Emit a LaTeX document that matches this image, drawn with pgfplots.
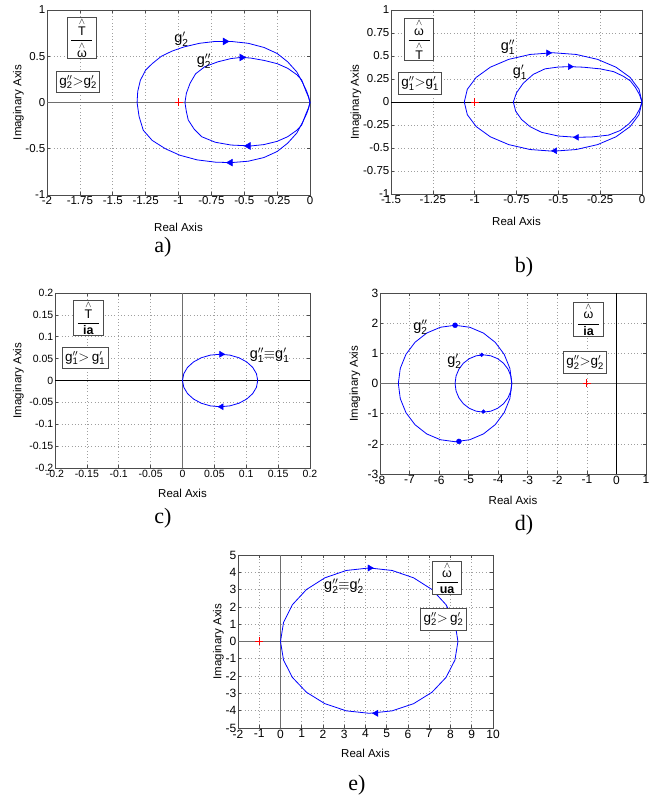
\documentclass[border=0pt]{standalone}
\usepackage{amsmath}
\usepackage{pgfplots}
\pgfplotsset{compat=1.18}
\usepackage{fontspec}
\setmainfont{Liberation Sans}
\newfontfamily\capfont{Liberation Serif}
\definecolor{zgray}{RGB}{110,110,110}
\pgfplotsset{
 mat/.style={scale only axis, anchor=south west,
  tick align=inside, major tick length=3pt,
  grid=major, major grid style={draw=gray!75, dash pattern=on 0.7pt off 2.6pt, line width=0.6pt},
  axis line style={draw=gray!60!black, line width=0.9pt},
  tick style={draw=gray!60!black, line width=0.6pt},
  ticklabel style={font=\fontsize{11.5}{13}\selectfont, inner sep=1.5pt},
  xlabel={Real Axis}, ylabel={Imaginary Axis},
  label style={font=\fontsize{11.5}{13}\selectfont},
  xlabel style={at={(axis description cs:0.5,0)}, anchor=center},
  ylabel style={at={(axis description cs:0,0.5)}, anchor=center},
  clip=false},
 curve/.style={blue, line width=0.8pt, line join=round},
 zl/.style={zgray, line width=1.6pt},
 zb/.style={black, line width=0.7pt},
 rp/.style={only marks, blue, mark=triangle*, mark size=4pt, mark options={rotate=-90}},
 lp/.style={only marks, blue, mark=triangle*, mark size=4pt, mark options={rotate=90}},
 crit/.style={only marks, red, mark=+, mark size=4pt, mark options={line width=0.9pt}}
}
\tikzset{
 bx/.style={draw=gray!60!black, line width=0.9pt, fill=white, inner xsep=3pt, inner ysep=4pt, font=\fontsize{13.5}{15}\selectfont},
 fb/.style={bx, inner ysep=1pt, font=\fontsize{12.5}{14}\selectfont},
 lab/.style={font=\fontsize{14.5}{16}\selectfont}
}
\newcommand{\gs}[2]{\text{g}#2_{\text{#1}}}
\newcommand{\fr}[2]{\dfrac{\makebox[21pt]{$#1$}}{\makebox[21pt]{$#2$}}}
\newcommand{\hT}{\overset{\wedge}{\text{T}}}
\newcommand{\hw}{\overset{\wedge}{\text{ω}}}
\begin{document}
\begin{tikzpicture}
\path[use as bounding box] (0pt,0pt) rectangle (659pt,799pt);
% ---------------- a)
\begin{axis}[mat, at={(47pt,604pt)}, width=263pt, height=185pt,
 xmin=-2, xmax=0, ymin=-1, ymax=1,
 xtick={-2,-1.75,-1.5,-1.25,-1,-0.75,-0.5,-0.25,0},
 xticklabels={-2,-1.75,-1.5,-1.25,-1,-0.75,-0.5,-0.25,0},
 ytick={-1,-0.5,0,0.5,1}, yticklabels={-1,-0.5,0,0.5,1},
 xlabel style={yshift=-32pt}, ylabel style={yshift=28.5pt}]
\addplot[zl] coordinates {(-2,0) (0,0)};
\addplot[curve] coordinates {(0,0) (-0.01,0.06) (-0.025,0.12) (-0.055,0.21) (-0.1,0.33) (-0.17,0.44) (-0.25,0.53) (-0.35,0.595) (-0.47,0.64) (-0.6,0.66) (-0.72,0.66) (-0.84,0.64) (-0.96,0.6) (-1.05,0.555) (-1.13,0.5) (-1.2,0.42) (-1.25,0.35) (-1.29,0.24) (-1.31,0.12) (-1.315,0)
 (-1.3,-0.15) (-1.268,-0.3) (-1.2,-0.41) (-1.1,-0.5) (-0.99,-0.57) (-0.86,-0.62) (-0.72,-0.645) (-0.6,-0.65) (-0.47,-0.635) (-0.35,-0.595) (-0.25,-0.53) (-0.17,-0.44) (-0.1,-0.33) (-0.055,-0.21) (-0.025,-0.12) (-0.01,-0.06) (0,0)};
\addplot[curve] coordinates {(0,0) (-0.012,0.06) (-0.03,0.12) (-0.063,0.243) (-0.1,0.3) (-0.17,0.37) (-0.25,0.42) (-0.35,0.455) (-0.45,0.48) (-0.52,0.488) (-0.6,0.475) (-0.7,0.44) (-0.8,0.387) (-0.87,0.31) (-0.912,0.208) (-0.94,0.1) (-0.951,0)
 (-0.94,-0.1) (-0.926,-0.189) (-0.88,-0.29) (-0.824,-0.37) (-0.72,-0.43) (-0.6,-0.46) (-0.45,-0.47) (-0.35,-0.455) (-0.25,-0.42) (-0.17,-0.37) (-0.1,-0.3) (-0.063,-0.243) (-0.03,-0.12) (-0.012,-0.06) (0,0)};
\addplot[rp] coordinates {(-0.646,0.66) (-0.519,0.487)};
\addplot[lp] coordinates {(-0.605,-0.65) (-0.469,-0.47)};
\addplot[crit] coordinates {(-1,0)};
\node[fb] at (rel axis cs:0.133,0.849) {$\fr{\hT}{\hw}$};
\node[bx] at (rel axis cs:0.118,0.611) {$\gs{2}{''}{>}\gs{2}{'}$};
\node[lab] at (axis cs:-0.977,0.686) {$\gs{2}{'}$};
\node[lab] at (axis cs:-0.806,0.449) {$\gs{2}{''}$};
\end{axis}
% ---------------- b)
\begin{axis}[mat, at={(391pt,605pt)}, width=251pt, height=184pt,
 xmin=-1.5, xmax=0, ymin=-1, ymax=1,
 xtick={-1.5,-1.25,-1,-0.75,-0.5,-0.25,0},
 xticklabels={-1.5,-1.25,-1,-0.75,-0.5,-0.25,0},
 ytick={-1,-0.75,-0.5,-0.25,0,0.25,0.5,0.75,1},
 yticklabels={-1,-0.75,-0.5,-0.25,0,0.25,0.5,0.75,1},
 xlabel style={yshift=-27pt}, ylabel style={yshift=35pt}]
\addplot[zb] coordinates {(-1.5,0) (0,0)};
\addplot[curve] coordinates {(0,0) (-0.0181,0.1385) (-0.0712,0.2675) (-0.1555,0.3783) (-0.2655,0.4633) (-0.3936,0.5168) (-0.531,0.535) (-0.6684,0.5168) (-0.7965,0.4633) (-0.9065,0.3783) (-0.9908,0.2675) (-1.0439,0.1385) (-1.062,0)
 (-1.0439,-0.1385) (-0.9908,-0.2675) (-0.9065,-0.3783) (-0.7965,-0.4633) (-0.6684,-0.5168) (-0.531,-0.535) (-0.3936,-0.5168) (-0.2655,-0.4633) (-0.1555,-0.3783) (-0.0712,-0.2675) (-0.0181,-0.1385) (0,0)};
\addplot[curve] coordinates {(0,0) (-0.015,0.08) (-0.04,0.16) (-0.07,0.23) (-0.112,0.28) (-0.17,0.33) (-0.25,0.36) (-0.35,0.378) (-0.43,0.384) (-0.5,0.38) (-0.58,0.36) (-0.65,0.3) (-0.71,0.203) (-0.75,0.1) (-0.769,0)
 (-0.755,-0.1) (-0.72,-0.19) (-0.669,-0.268) (-0.6,-0.33) (-0.5,-0.37) (-0.39,-0.384) (-0.3,-0.38) (-0.2,-0.36) (-0.13,-0.31) (-0.08,-0.24) (-0.04,-0.16) (-0.015,-0.08) (0,0)};
\addplot[rp, mark size=3.4pt] coordinates {(-0.56,0.534) (-0.43,0.384)};
\addplot[lp, mark size=3.4pt] coordinates {(-0.52,-0.53) (-0.39,-0.384)};
\addplot[crit] coordinates {(-1,0)};
\node[fb] at (rel axis cs:0.112,0.840) {$\fr{\hw}{\hT}$};
\node[bx] at (rel axis cs:0.116,0.601) {$\gs{1}{''}{>}\gs{1}{'}$};
\node[lab] at (axis cs:-0.801,0.598) {$\gs{1}{''}$};
\node[lab] at (axis cs:-0.729,0.326) {$\gs{1}{'}$};
\end{axis}
% ---------------- c)
\begin{axis}[mat, at={(55pt,331pt)}, width=255pt, height=175pt,
 xmin=-0.2, xmax=0.2, ymin=-0.2, ymax=0.2,
 ticklabel style={font=\fontsize{10.5}{12}\selectfont},
 xtick={-0.2,-0.15,-0.1,-0.05,0,0.05,0.1,0.15,0.2},
 xticklabels={-0.2,-0.15,-0.1,-0.05,0,0.05,0.1,0.15,0.2},
 ytick={-0.2,-0.15,-0.1,-0.05,0,0.05,0.1,0.15,0.2},
 yticklabels={-0.2,-0.15,-0.1,-0.05,0,0.05,0.1,0.15,0.2},
 xlabel style={yshift=-25pt}, ylabel style={yshift=36.5pt}]
\addplot[zl] coordinates {(0,-0.2) (0,0.2)};
\addplot[zb] coordinates {(-0.2,0) (0.2,0)};
\addplot[curve] coordinates {(0,0) (0.002,0.0155) (0.0079,0.03) (0.0173,0.0424) (0.0295,0.052) (0.0437,0.058) (0.059,0.06) (0.0743,0.058) (0.0885,0.052) (0.1007,0.0424) (0.1101,0.03) (0.116,0.0155) (0.118,0)
 (0.116,-0.0155) (0.1101,-0.03) (0.1007,-0.0424) (0.0885,-0.052) (0.0743,-0.058) (0.059,-0.06) (0.0437,-0.058) (0.0295,-0.052) (0.0173,-0.0424) (0.0079,-0.03) (0.002,-0.0155) (0,0)};
\addplot[rp, mark size=3.4pt] coordinates {(0.061,0.06)};
\addplot[lp, mark size=3.4pt] coordinates {(0.061,-0.06)};
\node[fb] at (rel axis cs:0.131,0.857) {$\fr{\hT}{\textbf{ia}}$};
\node[bx] at (rel axis cs:0.118,0.629) {$\gs{1}{''}{>}\,\gs{1}{'}$};
\node[lab, anchor=west] at (axis cs:0.1,0.057) {$\gs{1}{''}{\equiv}\gs{1}{'}$};
\end{axis}
% ---------------- d)
\begin{axis}[mat, at={(380pt,325pt)}, width=266pt, height=181pt,
 xmin=-8, xmax=1, ymin=-3, ymax=3,
 ticklabel style={font=\fontsize{12}{14}\selectfont},
 xtick={-8,-7,-6,-5,-4,-3,-2,-1,0,1}, xticklabels={-8,-7,-6,-5,-4,-3,-2,-1,0,1},
 ytick={-3,-2,-1,0,1,2,3}, yticklabels={-3,-2,-1,0,1,2,3},
 xlabel style={yshift=-26pt}, ylabel style={yshift=25pt}]
\addplot[zl] coordinates {(-8,0) (1,0)};
\addplot[zb, line width=0.9pt] coordinates {(0,-3) (0,3)};
\addplot[curve] coordinates {(-3.54,0) (-3.6055,0.4995) (-3.7973,0.965) (-4.1024,1.3647) (-4.5,1.6714) (-4.9631,1.8642) (-5.46,1.93) (-5.9569,1.8642) (-6.42,1.6714) (-6.8176,1.3647) (-7.1227,0.965) (-7.3145,0.4995) (-7.38,0)
 (-7.3145,-0.4995) (-7.1227,-0.965) (-6.8176,-1.3647) (-6.42,-1.6714) (-5.9569,-1.8642) (-5.46,-1.93) (-4.9631,-1.8642) (-4.5,-1.6714) (-4.1024,-1.3647) (-3.7973,-0.965) (-3.6055,-0.4995) (-3.54,0)};
\addplot[curve] coordinates {(-3.54,0) (-3.5727,0.2459) (-3.6686,0.475) (-3.8212,0.6717) (-4.02,0.8227) (-4.2516,0.9176) (-4.5,0.95) (-4.7484,0.9176) (-4.98,0.8227) (-5.1788,0.6717) (-5.3314,0.475) (-5.4273,0.2459) (-5.46,0)
 (-5.4273,-0.2459) (-5.3314,-0.475) (-5.1788,-0.6717) (-4.98,-0.8227) (-4.7484,-0.9176) (-4.5,-0.95) (-4.2516,-0.9176) (-4.02,-0.8227) (-3.8212,-0.6717) (-3.6686,-0.475) (-3.5727,-0.2459) (-3.54,0)};
\addplot[only marks, blue, mark=*, mark size=2.5pt] coordinates {(-5.46,1.93) (-5.33,-1.92)};
\addplot[only marks, blue, mark=*, mark size=1.9pt] coordinates {(-4.56,0.95) (-4.5,-0.93)};
\addplot[crit] coordinates {(-1,0)};
\node[fb] at (rel axis cs:0.784,0.854) {$\fr{\hw}{\textbf{ia}}$};
\node[bx] at (rel axis cs:0.771,0.616) {$\gs{2}{''}{>}\gs{2}{'}$};
\node[lab] at (axis cs:-6.63,1.856) {$\gs{2}{''}$};
\node[lab] at (axis cs:-5.48,0.729) {$\gs{2}{'}$};
\end{axis}
% ---------------- e)
\begin{axis}[mat, at={(238pt,71pt)}, width=255pt, height=173pt,
 xmin=-2, xmax=10, ymin=-5, ymax=5,
 ticklabel style={font=\fontsize{12}{14}\selectfont},
 xtick={-2,-1,0,1,2,3,4,5,6,7,8,9,10}, xticklabels={-2,-1,0,1,2,3,4,5,6,7,8,9,10},
 ytick={-5,-4,-3,-2,-1,0,1,2,3,4,5}, yticklabels={-5,-4,-3,-2,-1,0,1,2,3,4,5},
 xlabel style={yshift=-25pt}, ylabel style={yshift=19.5pt}]
\addplot[zl] coordinates {(-2,0) (10,0)};
\addplot[zl] coordinates {(0,-5) (0,5)};
\addplot[curve] coordinates {(0,0) (0.1423,1.1) (0.5594,2.125) (1.2229,3.0052) (2.0875,3.6805) (3.0945,4.1052) (4.175,4.25) (5.2555,4.1052) (6.2625,3.6805) (7.1271,3.0052) (7.7906,2.125) (8.2077,1.1) (8.35,0)
 (8.2077,-1.074) (7.7906,-2.075) (7.1271,-2.9345) (6.2625,-3.5939) (5.2555,-4.0085) (4.175,-4.15) (3.0945,-4.0085) (2.0875,-3.5939) (1.2229,-2.9345) (0.5594,-2.075) (0.1423,-1.074) (0,0)};
\addplot[rp, mark size=3.6pt] coordinates {(4.2,4.25)};
\addplot[lp, mark size=3.6pt] coordinates {(4.5,-4.15)};
\addplot[crit] coordinates {(-1,0)};
\node[fb] at (rel axis cs:0.820,0.867) {$\fr{\hw}{\textbf{ua}}$};
\node[bx] at (rel axis cs:0.806,0.630) {$\gs{2}{''}{>}\,\gs{2}{'}$};
\node[lab] at (axis cs:2.99,3.18) {$\gs{2}{''}{\equiv}\gs{2}{'}$};
\end{axis}
% captions
\node[font=\capfont\fontsize{22}{24}\selectfont] at (163pt,552pt) {a)};
\node[font=\capfont\fontsize{22}{24}\selectfont] at (524pt,532pt) {b)};
\node[font=\capfont\fontsize{22}{24}\selectfont] at (163pt,281pt) {c)};
\node[font=\capfont\fontsize{22}{24}\selectfont] at (524pt,274pt) {d)};
\node[font=\capfont\fontsize{22}{24}\selectfont] at (357pt,14pt) {e)};
\end{tikzpicture}
\end{document}
